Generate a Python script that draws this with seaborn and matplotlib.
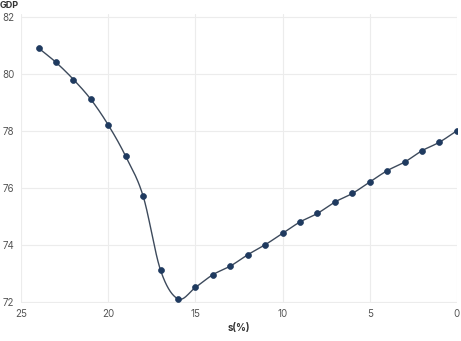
import numpy as np
import pandas as pd
import matplotlib
matplotlib.use("Agg")
import matplotlib.pyplot as plt
import seaborn as sns

s_pct = [24, 23, 22, 21, 20, 19, 18, 17, 16, 15, 14, 13, 12, 11, 10, 9, 8, 7, 6, 5, 4, 3, 2, 1, 0]
gdp = [80.9, 80.4, 79.8, 79.1, 78.2, 77.1, 75.7, 73.1, 72.1, 72.5, 72.95, 73.25, 73.65, 74.0, 74.4,
       74.8, 75.1, 75.5, 75.8, 76.2, 76.6, 76.9, 77.3, 77.6, 78.0]
x_ticks = [25, 20, 15, 10, 5, 0]
y_ticks = [72, 74, 76, 78, 80, 82]

df = pd.DataFrame({"s": s_pct, "gdp": gdp})

sns.set_theme(style="white")
plt.rcParams["font.family"] = ["Inter", "DejaVu Sans"]

fig = plt.figure(figsize=(4.61, 3.41), dpi=100)
ax = fig.add_axes([0.046, 0.111, 0.945, 0.848])

# smooth line (Catmull-Rom through the data points) for rendering only
xs = np.array(s_pct, float)
ys = np.array(gdp, float)
P = np.column_stack([xs, ys])
Pext = np.vstack([2 * P[0] - P[1], P, 2 * P[-1] - P[-2]])
curve = []
t = np.linspace(0, 1, 20, endpoint=False)
for i in range(1, len(Pext) - 2):
    p0, p1, p2, p3 = Pext[i - 1], Pext[i], Pext[i + 1], Pext[i + 2]
    tt = t[:, None]
    seg = 0.5 * ((2 * p1) + (-p0 + p2) * tt + (2 * p0 - 5 * p1 + 4 * p2 - p3) * tt ** 2
                 + (-p0 + 3 * p1 - 3 * p2 + p3) * tt ** 3)
    curve.append(seg)
curve.append(P[-1:])
curve = np.vstack(curve)
ax.plot(curve[:, 0], curve[:, 1], color="#3d4a5c", lw=1.0, zorder=2)

sns.scatterplot(data=df, x="s", y="gdp", ax=ax, color="#1f3a5f", s=18, edgecolor="#1f3a5f",
                linewidth=0.5, zorder=3)

ax.set_xlim(25, 0)
ax.set_ylim(71.95, 82.1)
ax.set_xticks(x_ticks)
ax.set_yticks(y_ticks)
ax.grid(True, color="#ececec", lw=0.8)
for sp in ax.spines.values():
    sp.set_visible(False)
ax.tick_params(axis="both", length=0, labelsize=7, colors="#555555", pad=4)
ax.tick_params(axis="y", pad=5)
ax.set_xlabel("s(%)", fontsize=7, fontweight="bold", color="#333333", labelpad=3)
ax.set_ylabel("")
fig.text(0.0, 0.998, "GDP", fontsize=6.5, fontweight="bold", color="#333333", ha="left", va="top")

fig.savefig("out.png", dpi=100)
